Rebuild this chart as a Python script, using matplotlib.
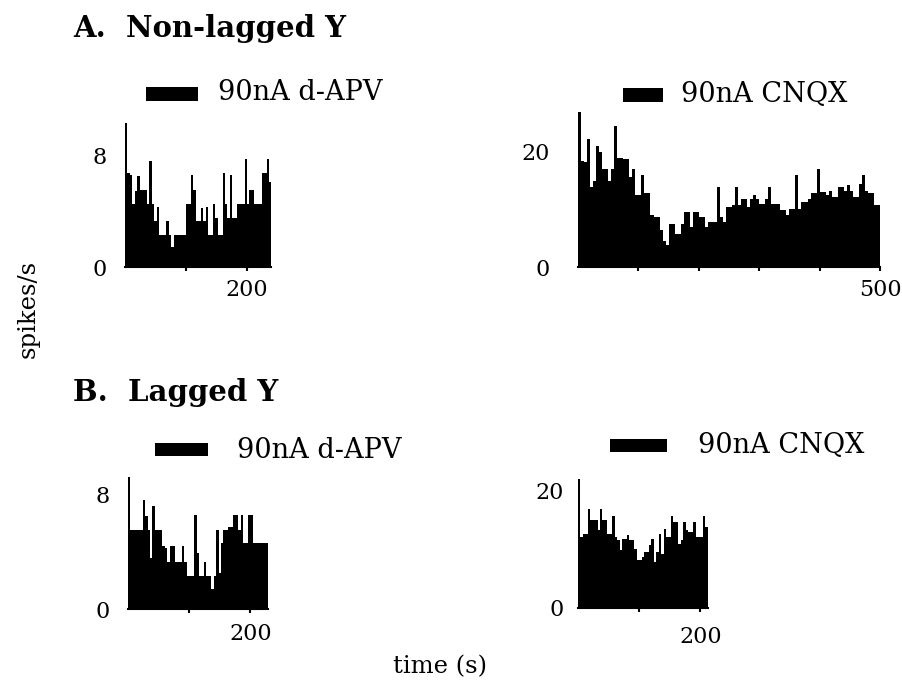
import numpy as np
import matplotlib.pyplot as plt
from matplotlib.patches import Rectangle

plt.rcParams['font.family'] = 'DejaVu Serif'

W, H = 902, 688

# firing rate (spikes/s) per bin
# A. non-lagged Y cell, 90nA d-APV, 4 s bins
apvNonLagged = [10.3, 6.7, 6.6, 4.5, 5.4, 6.5, 5.5, 5.5, 5.5, 4.5,
                7.6, 4.5, 3.3, 4.3, 2.3, 2.3, 2.3, 3.3, 2.3, 1.4,
                2.3, 2.3, 2.3, 2.3, 2.3, 4.5, 4.5, 6.6, 5.5, 3.3,
                3.3, 4.2, 3.3, 4.3, 2.3, 2.3, 4.5, 3.5, 2.3, 2.3,
                6.7, 4.5, 3.5, 6.6, 3.5, 3.5, 4.5, 4.5, 4.5, 7.7,
                4.5, 5.5, 5.5, 4.5, 4.5, 4.5, 6.7, 6.7, 7.7, 6.1]
# A. non-lagged Y cell, 90nA CNQX, 5 s bins
cnqxNonLagged = [27.0, 18.5, 18.3, 22.3, 13.9, 15.0, 21.0, 20.0, 17.0, 17.0,
                 15.0, 17.0, 24.5, 19.0, 19.0, 18.8, 18.8, 15.6, 17.0, 12.5,
                 12.5, 16.0, 12.9, 12.9, 9.0, 8.7, 8.7, 6.4, 4.6, 3.8,
                 7.5, 7.5, 5.8, 5.8, 7.5, 9.6, 9.6, 7.0, 9.6, 9.6,
                 8.7, 8.7, 7.0, 7.8, 7.8, 7.8, 13.9, 8.7, 7.8, 10.4,
                 10.4, 10.7, 13.9, 10.7, 11.9, 11.9, 10.4, 11.9, 12.5, 11.9,
                 11.0, 11.0, 11.9, 13.9, 11.0, 11.0, 11.0, 9.9, 9.9, 9.0,
                 10.1, 10.1, 16.0, 10.1, 11.3, 11.3, 11.9, 12.8, 12.8, 17.0,
                 13.0, 13.0, 12.5, 13.3, 12.2, 12.2, 13.9, 13.9, 13.3, 14.2,
                 13.3, 12.2, 12.2, 14.5, 16.0, 13.3, 12.8, 12.8, 10.7, 10.7]
# B. lagged Y cell, 90nA d-APV, 4 s bins
apvLagged = [9.2, 5.5, 5.5, 5.5, 5.5, 5.5, 7.6, 6.5, 5.5, 3.6,
             7.2, 5.5, 5.5, 5.5, 4.4, 4.3, 3.3, 4.4, 4.4, 3.3,
             3.3, 3.3, 4.4, 3.3, 2.3, 2.3, 2.3, 6.6, 3.9, 2.3,
             2.3, 3.3, 2.3, 2.3, 1.4, 2.3, 5.5, 2.5, 4.6, 5.5,
             5.5, 5.7, 5.7, 6.6, 6.6, 5.5, 6.6, 4.6, 4.6, 6.6,
             6.6, 4.6, 4.6, 4.6, 4.6, 4.6, 4.6]
# B. lagged Y cell, 90nA CNQX, 4 s bins
cnqxLagged = [22.0, 12.1, 12.6, 12.6, 16.9, 14.9, 14.9, 14.9, 13.2, 16.9,
              14.9, 14.9, 12.6, 12.6, 15.7, 12.1, 11.5, 9.8, 11.8, 11.8,
              12.4, 11.5, 11.5, 10.1, 8.1, 8.1, 8.7, 9.5, 9.5, 10.7,
              11.8, 7.8, 9.5, 12.6, 9.2, 13.5, 12.1, 12.1, 15.7, 14.6,
              14.6, 10.9, 11.5, 14.6, 13.2, 12.9, 12.9, 14.6, 12.1, 12.1,
              12.1, 15.7, 13.8]


def pixelBox(x0, x1, yBase, yTop):
    # figure-fraction rectangle from pixel corners (y measured from the top)
    return [x0 / W, 1 - yBase / H, (x1 - x0) / W, (yBase - yTop) / H]


def histPanel(fig, rect, rates, binWidth, yMax, yTop, xLabel, yPad, xPad):
    ax = fig.add_axes(rect)
    edges = np.arange(len(rates) + 1) * binWidth
    ax.stairs(rates, edges, fill=True, color="black", linewidth=0)
    ax.set_xlim(0, edges[-1])
    ax.set_ylim(0, yMax)
    for side in ["top", "right", "left"]:
        ax.spines[side].set_visible(False)
    ax.spines["bottom"].set_linewidth(1.5)

    xt = np.arange(100, edges[-1] + 1, 100)
    ax.set_xticks(xt)
    ax.set_xticklabels([str(int(v)) if v == xLabel else "" for v in xt])
    ax.set_yticks([0, yTop])
    ax.set_yticklabels(["0", str(yTop)])
    ax.tick_params(axis="x", length=3, width=1.5, pad=xPad, labelsize=16)
    ax.tick_params(axis="y", length=0, pad=yPad, labelsize=16)
    return ax


def legendBar(fig, x0, x1, yc, text, textX, baseline):
    h = 13
    fig.add_artist(Rectangle((x0 / W, 1 - (yc + h / 2) / H), (x1 - x0) / W, h / H,
                             transform=fig.transFigure, color="black", linewidth=0))
    fig.text(textX / W, 1 - baseline / H, text, fontsize=19.5, va="baseline")


fig = plt.figure(figsize=(W / 100, H / 100), dpi=100)

histPanel(fig, pixelBox(125, 125 + 240 * 0.61, 267, 267 - 11 * 14.0),
          apvNonLagged, 4, 11, 8, 200, 13, 6)
histPanel(fig, pixelBox(578, 880, 267, 267 - 28 * 5.75),
          cnqxNonLagged, 5, 28, 20, 500, 20, 6)
histPanel(fig, pixelBox(128, 128 + 228 * 0.612, 609, 609 - 10 * 14.3),
          apvLagged, 4, 10, 8, 200, 13, 7)
histPanel(fig, pixelBox(578, 578 + 212 * 0.612, 608, 608 - 23 * 5.88),
          cnqxLagged, 4, 23, 20, 200, 10, 10)

fig.text(73 / W, 1 - 37 / H, "A.  Non-lagged Y", fontsize=21, fontweight="bold", va="baseline")
fig.text(73 / W, 1 - 401 / H, "B.  Lagged Y", fontsize=21, fontweight="bold", va="baseline")

legendBar(fig, 146, 198, 94, "90nA d-APV", 218, 100)
legendBar(fig, 623, 663, 95, "90nA CNQX", 681, 102)
legendBar(fig, 155, 208, 449, "90nA d-APV", 237, 458)
legendBar(fig, 610, 667, 445, "90nA CNQX", 698, 453)

fig.text(28 / W, 1 - 309 / H, "spikes/s", fontsize=17.5, rotation=90, ha="center", va="center")
fig.text(440 / W, 1 - 667 / H, "time (s)", fontsize=17.5, ha="center", va="center")

fig.savefig("out.png", dpi=100)
